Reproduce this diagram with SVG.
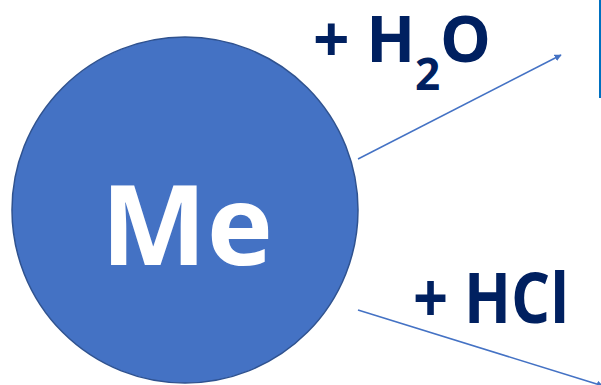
<svg xmlns="http://www.w3.org/2000/svg" width="601" height="385" viewBox="0 0 601 385">
<defs>
<style>
.lbl{font-family:"Open Sans","Liberation Sans",sans-serif;font-weight:bold;fill:#002060}
.conn{stroke:#4472C4;stroke-width:1.5;fill:none}
</style>
<marker id="ah" viewBox="0 0 10 10" refX="9" refY="5" markerWidth="7" markerHeight="7" orient="auto" markerUnits="userSpaceOnUse">
<path d="M0,0 L10,5 L0,10 z" fill="#4472C4"/>
</marker>
</defs>
<rect width="601" height="385" fill="#ffffff"/>
<g id="node-me">
<circle cx="185" cy="210" r="173" fill="#4472C4" stroke="#2F528F" stroke-width="1.5"/>
<text x="187" y="265" text-anchor="middle" font-family="Open Sans,Liberation Sans,sans-serif" font-weight="bold" font-size="112" fill="#ffffff">Me</text>
</g>
<g id="node-border">
<line x1="600" y1="0" x2="600" y2="98" stroke="#0070C0" stroke-width="2"/>
</g>
<g id="connectors">
<line class="conn" x1="358" y1="159" x2="561" y2="55" marker-end="url(#ah)"/>
<line class="conn" x1="358" y1="310" x2="603" y2="386" marker-end="url(#ah)"/>
</g>
<g id="label-h2o">
<text class="lbl" y="62" font-size="64"><tspan x="313">+ H</tspan><tspan x="415" y="90" font-size="44">2</tspan><tspan x="440" y="62">O</tspan></text>
</g>
<g id="label-hcl">
<text class="lbl" x="413" y="323" font-size="69" textLength="156" lengthAdjust="spacingAndGlyphs">+ HCl</text>
</g>
</svg>
